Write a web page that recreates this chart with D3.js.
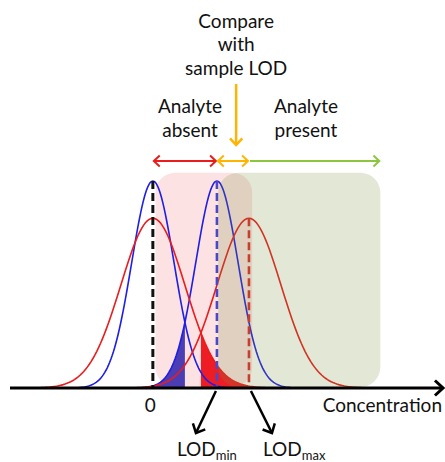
<!DOCTYPE html>
<html>
<head>
<meta charset="utf-8">
<script src="https://cdn.jsdelivr.net/npm/d3@7"></script>
<style>
  body { margin: 0; background: #fff; }
  svg { display: block; }
  text { font-family: Lato, "Liberation Sans", sans-serif; fill: #111; }
</style>
</head>
<body>
<div id="vis"></div>
<script>
// Frame
const FRAME_WIDTH = 445;
const FRAME_HEIGHT = 462;
const AXIS_Y = 388;

// Distributions (concentration units, LOD_min = 1)
const curveMeans = [0, 1, 0, 1.5];
const curveSDs = [0.33, 0.33, 0.5, 0.5];
const curvePeaks = [1, 1, 0.82, 0.82];
const curveKinds = ["blue", "blue", "red", "red"];

// Dashed markers: blank, LOD_min, LOD_max
const markerValues = [0, 1, 1.5];
const markerPeaks = [1, 1, 0.82];
const markerKinds = ["black", "blue", "red"];

// Error tails: blue (beta) under curve 1 left of cut, red (alpha) under curve 2 right of cut
const betaCut = 0.5;
const alphaCut = 0.75;

// Shaded regions
const boxStarts = [0.04, 1.02];
const boxEnds = [1.55, 3.55];
const boxTop = 1.04;

// Range arrows across the top
const rangeStarts = [0, 1, 1.5];
const rangeEnds = [1, 1.5, 3.55];
const rangeKinds = ["red", "orange", "green"];

// Tick and labels
const tickValues = [0];
const tickLabels = ["0"];
const lodLabelValues = [1, 1.5];
const lodSubscripts = ["min", "max"];

const COLORS = {
    blue: "#1f1fe6", red: "#ea1c1c", black: "#111",
    dashBlue: "#4a48c8", dashRed: "#d92a2a",
    fillBlue: "#4b3db3", fillRed: "#ee1c24",
    pink: "#fde2e4", green: "rgb(117,141,60)",
    orange: "#ffb400", arrowGreen: "#8cc63f"
};

const xScale = d3.scaleLinear().domain([-2.23, 4.56]).range([10, 445]);
const yScale = d3.scaleLinear().domain([0, 1]).range([AXIS_Y, 181]);

function gauss(m, s, p) {
    return (v) => p * Math.exp(-0.5 * ((v - m) / s) ** 2);
}
function samples(i, lo, hi) {
    const f = gauss(curveMeans[i], curveSDs[i], curvePeaks[i]);
    const n = 120;
    return d3.range(n + 1).map(k => { const v = lo + (hi - lo) * k / n; return [v, f(v)]; });
}

const svg = d3.select("#vis").append("svg")
    .attr("width", FRAME_WIDTH)
    .attr("height", FRAME_HEIGHT);

// pink box (behind curves)
svg.append("rect")
    .attr("x", xScale(boxStarts[0]))
    .attr("y", yScale(boxTop))
    .attr("width", xScale(boxEnds[0]) - xScale(boxStarts[0]))
    .attr("height", yScale(0) - yScale(boxTop) - 1)
    .attr("rx", 20)
    .style("fill", COLORS.pink);

const area = d3.area()
    .x(d => xScale(d[0]))
    .y0(yScale(0))
    .y1(d => yScale(d[1]));

// blue tail (LOD_min distribution below the cut)
svg.append("path")
    .attr("d", area(samples(1, curveMeans[1] - 3.5 * curveSDs[1], betaCut)))
    .style("fill", COLORS.fillBlue);

// red tail (blank distribution above the cut)
svg.append("path")
    .attr("d", area(samples(2, alphaCut, curveMeans[2] + 3.5 * curveSDs[2])))
    .style("fill", COLORS.fillRed);

const line = d3.line()
    .x(d => xScale(d[0]))
    .y(d => yScale(d[1]));

svg.selectAll(".curve")
    .data(d3.range(curveMeans.length))
    .enter()
    .append("path")
    .attr("class", "curve")
    .attr("d", i => line(samples(i, curveMeans[i] - 3.5 * curveSDs[i], curveMeans[i] + 3.5 * curveSDs[i])))
    .style("fill", "none")
    .style("stroke", i => COLORS[curveKinds[i]])
    .style("stroke-width", 1.6);

// dashed markers
const dashColor = { black: COLORS.black, blue: COLORS.dashBlue, red: COLORS.dashRed };
svg.selectAll(".marker")
    .data(d3.range(markerValues.length))
    .enter()
    .append("line")
    .attr("class", "marker")
    .attr("x1", i => xScale(markerValues[i]))
    .attr("x2", i => xScale(markerValues[i]))
    .attr("y1", i => yScale(markerPeaks[i]))
    .attr("y2", yScale(0))
    .style("stroke", i => dashColor[markerKinds[i]])
    .style("stroke-width", i => i === 0 ? 3 : 2.6)
    .style("stroke-dasharray", "8,4");

// green box (translucent, on top)
svg.append("rect")
    .attr("x", xScale(boxStarts[1]))
    .attr("y", yScale(boxTop))
    .attr("width", xScale(boxEnds[1]) - xScale(boxStarts[1]))
    .attr("height", yScale(0) - yScale(boxTop) - 1)
    .attr("rx", 20)
    .style("fill", COLORS.green)
    .style("fill-opacity", 0.21);

// x axis
const xAxis = svg.append("g")
    .attr("transform", "translate(0," + AXIS_Y + ")")
    .call(d3.axisBottom(xScale).tickValues(tickValues).tickFormat((d, i) => tickLabels[i]).tickSize(0).tickSizeOuter(0));
xAxis.select(".domain")
    .attr("d", "M10,0H443")
    .style("stroke", "#000")
    .style("stroke-width", 3);
xAxis.selectAll("text")
    .attr("x", -3)
    .attr("y", 24)
    .attr("dy", 0)
    .style("font-family", "Lato, 'Liberation Sans', sans-serif")
    .style("font-size", "19px")
    .style("fill", "#111");

// chevron helper: tip at (x,y), direction angle in radians
function chevron(g, x, y, ang, size, color, width) {
    const a1 = ang + Math.PI - 0.75, a2 = ang + Math.PI + 0.75;
    g.append("path")
        .attr("d", "M" + (x + size * Math.cos(a1)) + "," + (y + size * Math.sin(a1)) +
            "L" + x + "," + y +
            "L" + (x + size * Math.cos(a2)) + "," + (y + size * Math.sin(a2)))
        .style("fill", "none")
        .style("stroke", color)
        .style("stroke-width", width)
        .style("stroke-linejoin", "miter");
}

chevron(svg, 443, AXIS_Y, 0, 11, "#000", 3);

// range arrows
const ARROW_Y = 161;
const rangeColor = { red: COLORS.red, orange: COLORS.orange, green: COLORS.arrowGreen };
rangeStarts.forEach((s, i) => {
    const c = rangeColor[rangeKinds[i]];
    const x1 = xScale(s), x2 = xScale(rangeEnds[i]);
    svg.append("line")
        .attr("x1", x1 + 1).attr("x2", x2 - 1)
        .attr("y1", ARROW_Y).attr("y2", ARROW_Y)
        .style("stroke", c).style("stroke-width", 2);
    chevron(svg, x2 - 1, ARROW_Y, 0, 8, c, 2);
    if (i < 2) chevron(svg, x1 + 1, ARROW_Y, Math.PI, 8, c, 2);
});

// compare arrow
const compareX = xScale(1.3);
svg.append("line")
    .attr("x1", compareX).attr("x2", compareX)
    .attr("y1", 84).attr("y2", 144)
    .style("stroke", COLORS.orange).style("stroke-width", 2.5);
chevron(svg, compareX, 145, Math.PI / 2, 9, COLORS.orange, 2.5);

// top texts
const topText = svg.append("text")
    .attr("text-anchor", "middle")
    .style("font-size", "19px");
[["Compare", 28], ["with", 51], ["sample LOD", 75]].forEach(d => {
    topText.append("tspan").attr("x", compareX).attr("y", d[1]).text(d[0]);
});
[["Analyte", 0.58, 113], ["absent", 0.58, 137], ["Analyte", 2.39, 113], ["present", 2.39, 137]].forEach(d => {
    svg.append("text")
        .attr("x", xScale(d[1]))
        .attr("y", d[2])
        .attr("text-anchor", "middle")
        .style("font-size", "19px")
        .text(d[0]);
});

svg.append("text")
    .attr("x", 442)
    .attr("y", 412)
    .attr("text-anchor", "end")
    .style("font-size", "19px")
    .text("Concentration");

// LOD arrows and labels
const lodDx = [-20, 21];
const lodLabelX = [177, 263];
lodLabelValues.forEach((v, i) => {
    const x0 = xScale(v) + (i === 0 ? -1 : 2);
    const x1 = x0 + lodDx[i], y1 = 433;
    svg.append("line")
        .attr("x1", x0).attr("y1", 391)
        .attr("x2", x1).attr("y2", y1)
        .style("stroke", "#000").style("stroke-width", 2.5);
    chevron(svg, x1, y1, Math.atan2(y1 - 391, x1 - x0), 10, "#000", 2.5);
    const t = svg.append("text")
        .attr("x", lodLabelX[i])
        .attr("y", 456)
        .style("font-size", "19px");
    t.append("tspan").text("LOD");
    t.append("tspan").attr("dy", 4).style("font-size", "13px").text(lodSubscripts[i]);
});
</script>
</body>
</html>
